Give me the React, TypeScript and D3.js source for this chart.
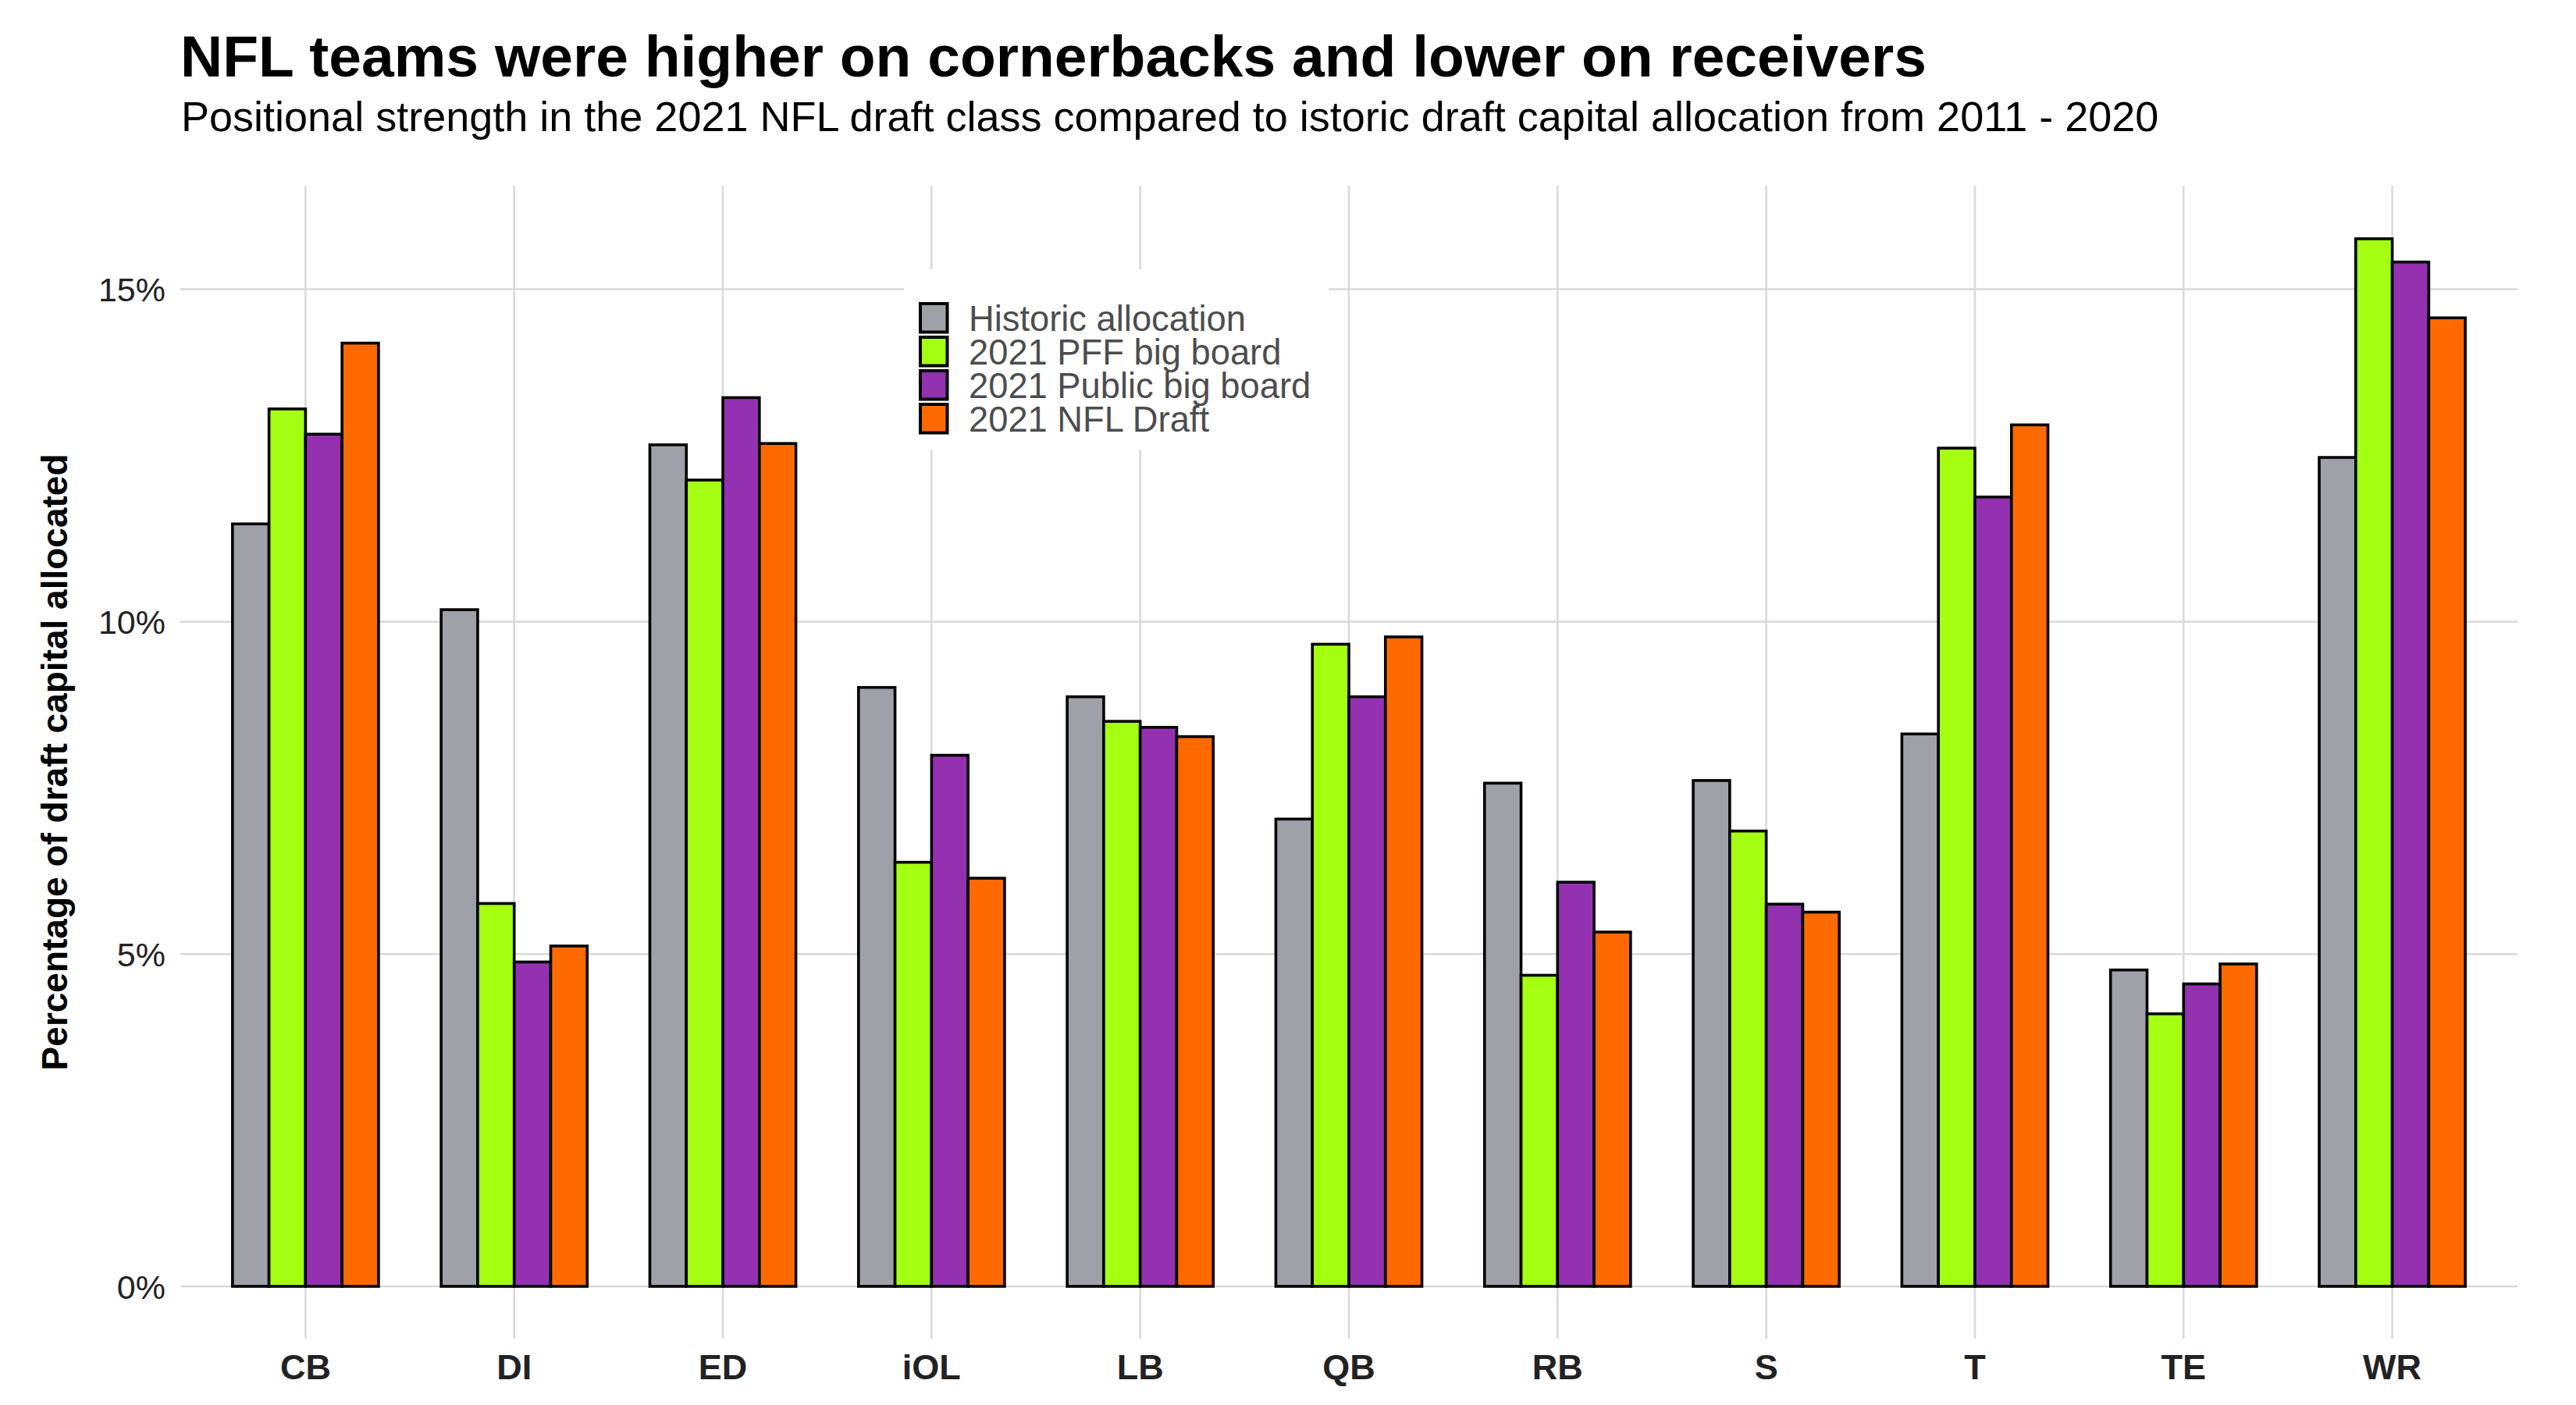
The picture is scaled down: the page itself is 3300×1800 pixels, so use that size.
import React from "react";
import * as d3 from "d3";

const categories = ["CB", "DI", "ED", "iOL", "LB", "QB", "RB", "S", "T", "TE", "WR"];
const seriesNames = ["Historic allocation", "2021 PFF big board", "2021 Public big board", "2021 NFL Draft"];
const seriesColors = ["#9ea1a8", "#a4ff12", "#9331b0", "#ff6a00"];
const historic = [11.47, 10.18, 12.66, 9.01, 8.87, 7.03, 7.57, 7.61, 8.31, 4.76, 12.47];
const pffBoard = [13.2, 5.76, 12.13, 6.38, 8.5, 9.66, 4.68, 6.85, 12.61, 4.1, 15.76];
const publicBoard = [12.82, 4.88, 13.37, 7.99, 8.41, 8.87, 6.08, 5.75, 11.875, 4.55, 15.41];
const nflDraft = [14.19, 5.12, 12.68, 6.14, 8.27, 9.77, 5.33, 5.63, 12.96, 4.85, 14.57];
const yTicks = [0, 5, 10, 15];

const seriesValues = [historic, pffBoard, publicBoard, nflDraft];

const W = 3300;
const H = 1800;
const panelLeft = 231;
const panelRight = 3225;

export default function App() {
  const y = d3.scaleLinear().domain([0, 15]).range([1648, 370.6]);
  const panelTop = y(16.56);
  const panelBottom = y(-0.788);
  const x = d3.scalePoint<string>().domain(categories).range([panelLeft, panelRight]).padding(0.6);
  const step = x.step();
  const sub = d3.scaleBand<number>().domain(d3.range(seriesNames.length)).range([-0.35 * step, 0.35 * step]);
  const font = "'Liberation Sans', Arial, Helvetica, sans-serif";
  const grid = "#d9d9d9";

  const legendX = 1158;
  const legendY = 345;
  const rowH = 43;

  return (
    <div style={{ position: "absolute", left: 0, top: 0 }}>
      <svg width={W} height={H} style={{ display: "block", background: "#fff" }} fontFamily={font}>
        <rect x={0} y={0} width={W} height={H} fill="#fff" />
        {/* title */}
        <text x={231} y={98} fontSize={75} fontWeight="bold" fill="#000">
          NFL teams were higher on cornerbacks and lower on receivers
        </text>
        <text x={232} y={168} fontSize={54} fill="#000">
          Positional strength in the 2021 NFL draft class compared to istoric draft capital allocation from 2011 - 2020
        </text>
        {/* gridlines */}
        {yTicks.map((t) => (
          <line key={"h" + t} x1={panelLeft} x2={panelRight} y1={y(t)} y2={y(t)} stroke={grid} strokeWidth={2.5} />
        ))}
        {categories.map((c) => (
          <line key={"v" + c} x1={x(c)} x2={x(c)} y1={panelTop} y2={panelBottom} stroke={grid} strokeWidth={2.5} />
        ))}
        {/* y tick labels */}
        {yTicks.map((t) => (
          <text key={"yt" + t} x={212} y={y(t) + 15.5} fontSize={43} textAnchor="end" fill="#222">
            {t + "%"}
          </text>
        ))}
        {/* y axis title */}
        <text
          transform={`translate(86, ${(panelTop + panelBottom) / 2}) rotate(-90)`}
          fontSize={46}
          fontWeight="bold"
          textAnchor="middle"
          fill="#000"
        >
          Percentage of draft capital allocated
        </text>
        {/* bars */}
        {categories.map((c, i) => (
          <g key={"g" + c}>
            {seriesValues.map((vals, s) => (
              <rect
                key={s}
                x={(x(c) as number) + (sub(s) as number)}
                width={sub.bandwidth()}
                y={y(vals[i])}
                height={y(0) - y(vals[i])}
                fill={seriesColors[s]}
                stroke="#000"
                strokeWidth={3.6}
              />
            ))}
          </g>
        ))}
        {/* x labels */}
        {categories.map((c) => (
          <text key={"xl" + c} x={x(c)} y={1767} fontSize={45} fontWeight="bold" textAnchor="middle" fill="#222">
            {c}
          </text>
        ))}
        {/* legend */}
        <rect x={legendX} y={legendY} width={544} height={231} fill="#fff" />
        {seriesNames.map((n, s) => (
          <g key={"lg" + s}>
            <rect
              x={1179}
              y={389 + s * rowH}
              width={34.5}
              height={36.5}
              fill={seriesColors[s]}
              stroke="#000"
              strokeWidth={4}
            />
            <text x={1241} y={424 + s * rowH} fontSize={45.3} fill="#4d4d4d">
              {n}
            </text>
          </g>
        ))}
      </svg>
    </div>
  );
}
